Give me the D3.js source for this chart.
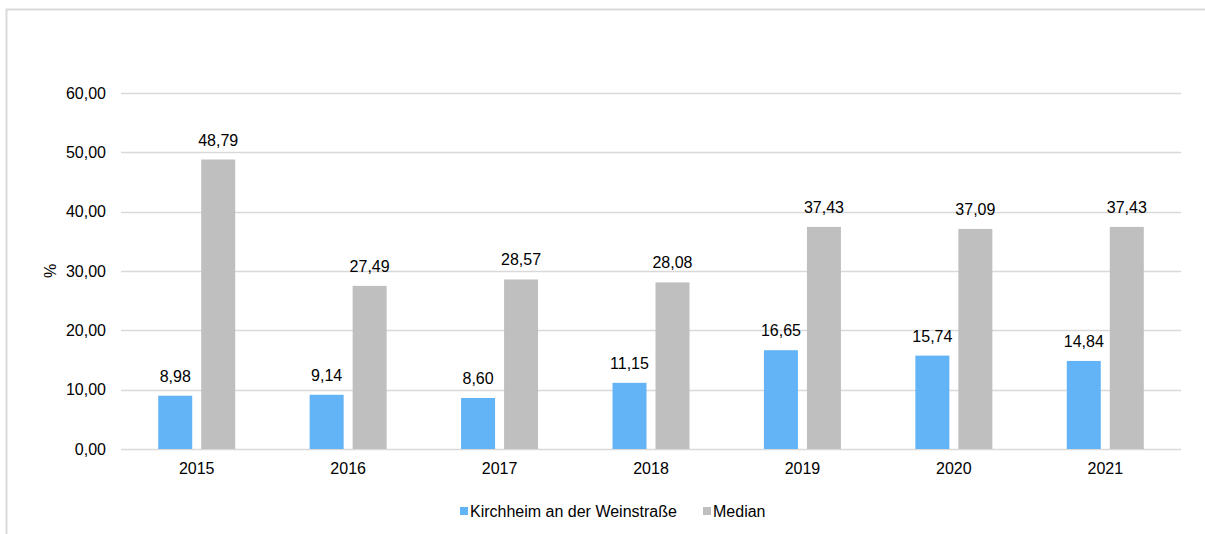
<!DOCTYPE html>
<html>
<head>
<meta charset="utf-8">
<script src="https://cdn.jsdelivr.net/npm/d3@7"></script>
<style>
  body { margin: 0; background: #fff; }
  svg { font-family: "Liberation Sans", Arial, sans-serif; }
</style>
</head>
<body>
<svg width="1205" height="534"></svg>
<script>
// data
var years = ["2015", "2016", "2017", "2018", "2019", "2020", "2021"];
var kirchheim = [8.98, 9.14, 8.60, 11.15, 16.65, 15.74, 14.84];
var median = [48.79, 27.49, 28.57, 28.08, 37.43, 37.09, 37.43];
var yTicks = [0, 10, 20, 30, 40, 50, 60];
var seriesNames = ["Kirchheim an der Weinstraße", "Median"];
var colors = ["#63b4f6", "#bfbfbf"];

var fs = 16;

var svg = d3.select("svg"),
    margin = {top: 93, left: 121, right: 24, bottom: 85},
    width = 1205 - margin.left - margin.right,
    height = 534 - margin.top - margin.bottom;

// outer frame (only top and left are visible)
svg.append("path")
    .attr("d", "M6.5,534 V9.5 H1205")
    .attr("fill", "none")
    .attr("stroke", "#d9d9d9")
    .attr("stroke-width", 2);

var g = svg.append("g").attr("transform", "translate(" + margin.left + "," + margin.top + ")");

var x = d3.scaleBand().domain(years).range([0, width]);
var y = d3.scaleLinear().domain([0, 60]).range([height, 0]);

var fmt = function(v) { return d3.format(".2f")(v).replace(".", ","); };

// gridlines
g.append("g")
  .selectAll("line")
  .data(yTicks)
  .enter().append("line")
    .attr("x1", 0)
    .attr("x2", width)
    .attr("y1", function(d) { return Math.round(y(d)) + 0.5; })
    .attr("y2", function(d) { return Math.round(y(d)) + 0.5; })
    .attr("stroke", "#d9d9d9")
    .attr("stroke-width", 1.5);

// y axis labels
var yAxis = g.append("g")
    .call(d3.axisLeft(y).tickValues(yTicks).tickFormat(fmt).tickSize(0).tickPadding(15));
yAxis.select(".domain").remove();
yAxis.selectAll("text").attr("font-size", fs).attr("fill", "#000").attr("font-family", "Liberation Sans, Arial, sans-serif");

// x axis labels
var xAxis = g.append("g")
    .attr("transform", "translate(0," + height + ")")
    .call(d3.axisBottom(x).tickSize(0).tickPadding(14));
xAxis.select(".domain").remove();
xAxis.selectAll("text").attr("font-size", fs).attr("fill", "#000").attr("font-family", "Liberation Sans, Arial, sans-serif");

// bars
var barW = 34, gap = 9;
var sets = [kirchheim, median];
sets.forEach(function(vals, si) {
  var off = si === 0 ? -gap / 2 - barW : gap / 2;
  var grp = g.append("g");
  grp.selectAll("rect")
    .data(vals)
    .enter().append("rect")
      .attr("x", function(d, i) { return x(years[i]) + x.bandwidth() / 2 + off; })
      .attr("y", function(d) { return y(d); })
      .attr("width", barW)
      .attr("height", function(d) { return height - y(d); })
      .attr("fill", colors[si]);
  grp.selectAll("text")
    .data(vals)
    .enter().append("text")
      .attr("x", function(d, i) { return x(years[i]) + x.bandwidth() / 2 + off + barW / 2; })
      .attr("y", function(d) { return y(d) - 14; })
      .attr("text-anchor", "middle")
      .attr("font-size", fs)
      .attr("fill", "#000")
      .text(fmt);
});

// y axis title
svg.append("text")
    .attr("transform", "translate(56," + (margin.top + height / 2) + ") rotate(-90)")
    .attr("text-anchor", "middle")
    .attr("font-size", fs)
    .text("%");

// legend
var legendX = [460, 703];
var legend = svg.append("g")
  .selectAll("g")
  .data(seriesNames)
  .enter().append("g")
    .attr("transform", function(d, i) { return "translate(" + legendX[i] + ",511)"; });

legend.append("rect")
    .attr("x", 0)
    .attr("y", -4)
    .attr("width", 8)
    .attr("height", 8)
    .attr("fill", function(d, i) { return colors[i]; });

legend.append("text")
    .attr("x", 10)
    .attr("dy", "0.35em")
    .attr("font-size", fs)
    .text(function(d) { return d; });
</script>
</body>
</html>
